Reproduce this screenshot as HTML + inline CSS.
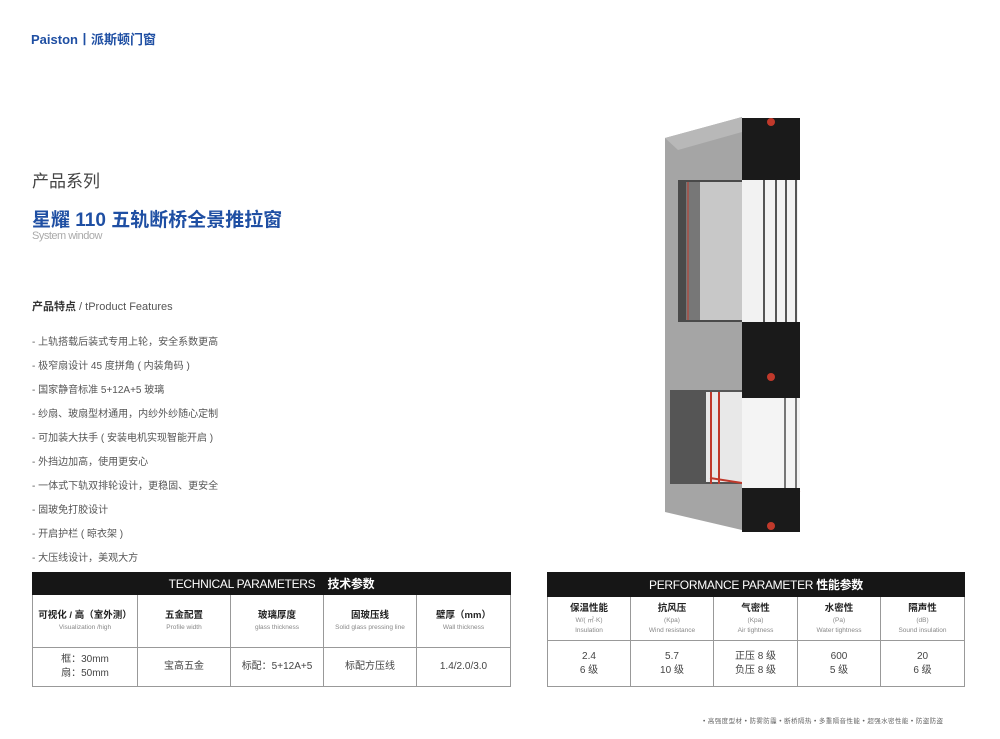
<!DOCTYPE html>
<html><head><meta charset="utf-8"><style>
*{margin:0;padding:0;box-sizing:border-box}
body{width:1000px;height:739px;background:#fff;position:relative;overflow:hidden;font-family:"Liberation Sans","Noto Sans CJK SC",sans-serif;color:#444}
.a{position:absolute;white-space:nowrap}
.li{position:absolute;left:32px;font-size:10px;color:#555}
table{position:absolute;border-collapse:collapse;table-layout:fixed}
td{border:1px solid #999;text-align:center;vertical-align:middle;color:#444;font-size:10px;line-height:14px}
th{background:#161616;color:#fff;font-weight:normal;font-size:12px;height:22px;border:1px solid #161616;letter-spacing:-0.3px}
.h{font-size:9.5px;color:#222;font-weight:bold}
.s{font-size:6.5px;color:#888;line-height:10px}
</style></head><body>
<div class="a" style="left:31px;top:29px;font-size:13px;font-weight:bold;color:#1f4fa3">Paiston丨派斯顿门窗</div>
<div class="a" style="left:32px;top:167px;font-size:17px;color:#444">产品系列</div>
<div class="a" style="left:32px;top:205px;font-size:19px;font-weight:bold;color:#1f4fa3">星耀 110 五轨断桥全景推拉窗</div>
<div class="a" style="left:32px;top:230px;font-size:11px;color:#aaa;letter-spacing:-0.5px">System window</div>
<div class="a" style="left:32px;top:298px;font-size:11px;color:#555"><b style="color:#333">产品特点</b> / tProduct Features</div>
<div class="li" style="top:333px">- 上轨搭载后装式专用上轮，安全系数更高</div>
<div class="li" style="top:357px">- 极窄扇设计 45 度拼角 ( 内装角码 )</div>
<div class="li" style="top:381px">- 国家静音标准 5+12A+5 玻璃</div>
<div class="li" style="top:405px">- 纱扇、玻扇型材通用，内纱外纱随心定制</div>
<div class="li" style="top:429px">- 可加装大扶手 ( 安装电机实现智能开启 )</div>
<div class="li" style="top:453px">- 外挡边加高，使用更安心</div>
<div class="li" style="top:477px">- 一体式下轨双排轮设计，更稳固、更安全</div>
<div class="li" style="top:501px">- 固玻免打胶设计</div>
<div class="li" style="top:525px">- 开启护栏 ( 晾衣架 )</div>
<div class="li" style="top:549px">- 大压线设计，美观大方</div>

<svg class="a" style="left:660px;top:110px" width="150" height="430" viewBox="660 110 150 430">
<polygon points="665,138 742,117 742,530 665,512" fill="#a5a5a5"/>
<polygon points="665,138 742,117 742,132 678,150" fill="#b8b8b8"/>
<rect x="678" y="180" width="64" height="142" fill="#4a4a4a"/>
<rect x="700" y="182" width="42" height="138" fill="#c8c8c8"/>
<rect x="686" y="182" width="14" height="138" fill="#777"/>
<line x1="688" y1="182" x2="688" y2="320" stroke="#c0392b" stroke-width="1"/>
<rect x="670" y="390" width="72" height="94" fill="#555"/>
<rect x="706" y="392" width="36" height="90" fill="#e8e8e8"/>
<line x1="711" y1="392" x2="711" y2="484" stroke="#c0392b" stroke-width="2"/>
<line x1="719" y1="392" x2="719" y2="484" stroke="#c0392b" stroke-width="2"/>
<line x1="710" y1="478" x2="800" y2="492" stroke="#c0392b" stroke-width="2"/>
<rect x="742" y="118" width="58" height="62" fill="#1a1a1a"/>
<rect x="742" y="180" width="56" height="142" fill="#f2f2f2"/>
<line x1="764" y1="180" x2="764" y2="322" stroke="#555" stroke-width="2"/>
<line x1="776" y1="180" x2="776" y2="322" stroke="#555" stroke-width="2"/>
<line x1="786" y1="180" x2="786" y2="322" stroke="#555" stroke-width="2"/>
<line x1="796" y1="180" x2="796" y2="322" stroke="#555" stroke-width="2"/>
<rect x="742" y="322" width="58" height="76" fill="#1a1a1a"/>
<rect x="742" y="398" width="58" height="90" fill="#f4f4f4"/>
<line x1="785" y1="398" x2="785" y2="488" stroke="#777" stroke-width="2"/>
<line x1="796" y1="398" x2="796" y2="488" stroke="#777" stroke-width="2"/>
<rect x="742" y="488" width="58" height="44" fill="#1a1a1a"/>
<circle cx="771" cy="122" r="4" fill="#c0392b"/><circle cx="771" cy="377" r="4" fill="#c0392b"/><circle cx="771" cy="526" r="4" fill="#c0392b"/>
</svg>

<table style="left:32px;top:572px;width:478px">
<colgroup><col style="width:105px"><col style="width:93px"><col style="width:93px"><col style="width:93px"><col style="width:94px"></colgroup>
<tr><th colspan="5">TECHNICAL PARAMETERS &nbsp;&nbsp; <b>技术参数</b></th></tr>
<tr style="height:53px"><td><div class="h">可视化 / 高（室外测）</div><div class="s">Visualization /high</div></td><td><div class="h">五金配置</div><div class="s">Profile width</div></td><td><div class="h">玻璃厚度</div><div class="s">glass thickness</div></td><td><div class="h">固玻压线</div><div class="s">Solid glass pressing line</div></td><td><div class="h">壁厚（mm）</div><div class="s">Wall thickness</div></td></tr>
<tr style="height:39px"><td>框：30mm<br>扇：50mm</td><td>宝高五金</td><td>标配：5+12A+5</td><td>标配方压线</td><td>1.4/2.0/3.0</td></tr>
</table>

<table style="left:547px;top:572px;width:417px">
<colgroup><col style="width:83px"><col style="width:83px"><col style="width:84px"><col style="width:83px"><col style="width:84px"></colgroup>
<tr><th colspan="5" style="height:24px">PERFORMANCE PARAMETER <b>性能参数</b></th></tr>
<tr style="height:44px"><td><div class="h">保温性能</div><div class="s">W/( ㎡·K)<br>Insulation</div></td><td><div class="h">抗风压</div><div class="s">(Kpa)<br>Wind resistance</div></td><td><div class="h">气密性</div><div class="s">(Kpa)<br>Air tightness</div></td><td><div class="h">水密性</div><div class="s">(Pa)<br>Water tightness</div></td><td><div class="h">隔声性</div><div class="s">(dB)<br>Sound insulation</div></td></tr>
<tr style="height:46px"><td>2.4<br>6 级</td><td>5.7<br>10 级</td><td>正压 8 级<br>负压 8 级</td><td>600<br>5 级</td><td>20<br>6 级</td></tr>
</table>
<div class="a" style="left:703px;top:715px;font-size:6.5px;color:#666;letter-spacing:0.4px">• 高强度型材 • 防雾防霾 • 断桥隔热 • 多重隔音性能 • 超强水密性能 • 防盗防盗</div>
</body></html>
